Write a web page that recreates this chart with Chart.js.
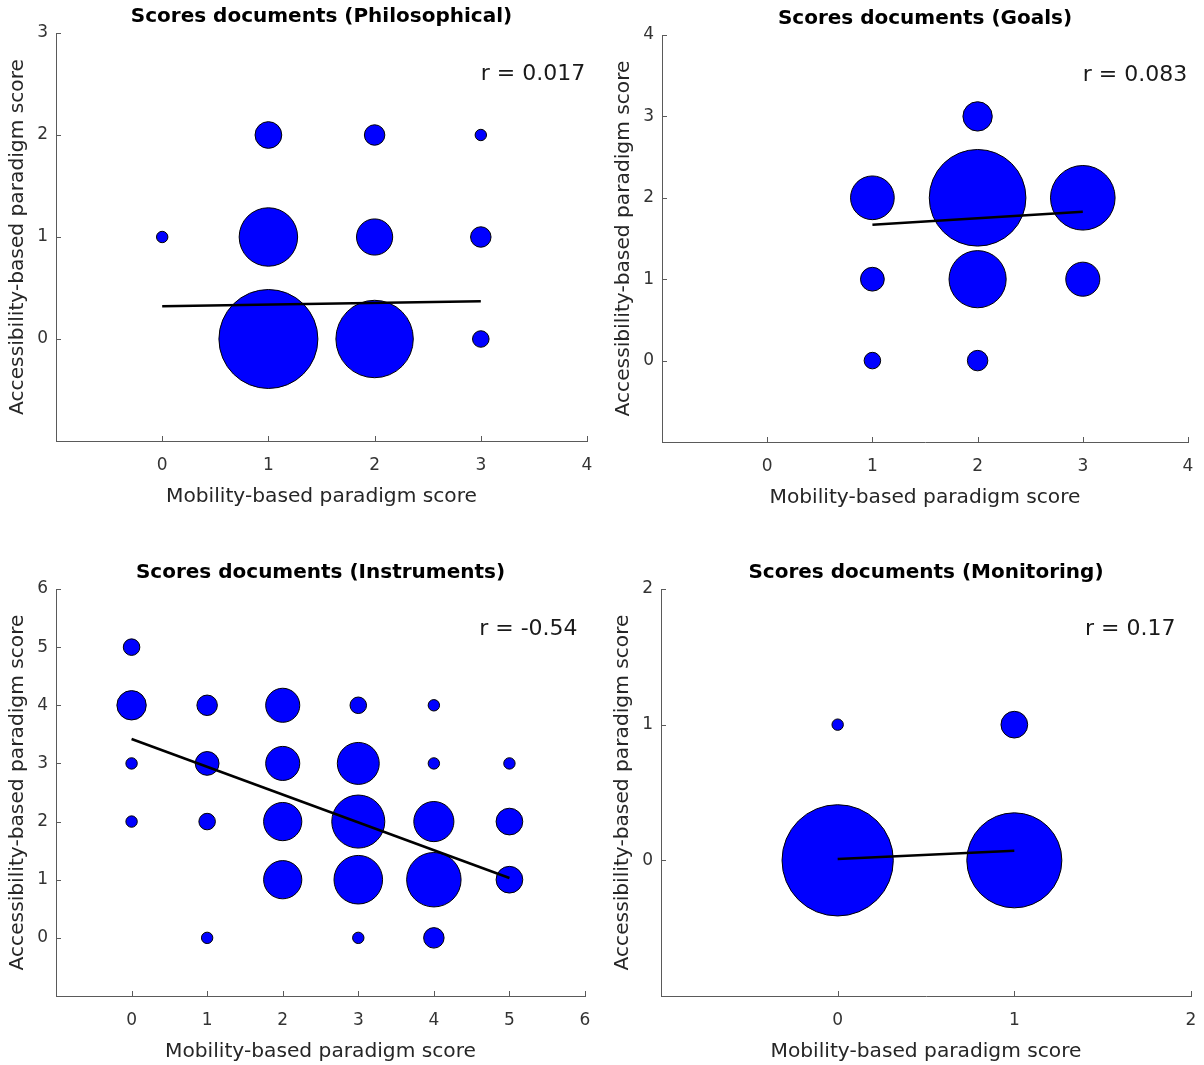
<!DOCTYPE html>
<html>
<head>
<meta charset="utf-8">
<script src="https://cdn.jsdelivr.net/npm/chart.js@4.4.1/dist/chart.umd.min.js"></script>
<style>
  html, body { margin: 0; padding: 0; background: #fff; }
  #wrap { position: relative; width: 1204px; height: 1065px; overflow: hidden; }
  #wrap canvas { position: absolute; }
</style>
</head>
<body>
<div id="wrap">
  <canvas id="c1"></canvas>
  <canvas id="c2"></canvas>
  <canvas id="c3"></canvas>
  <canvas id="c4"></canvas>
</div>
<script>
/***********************
 * DATA
 ***********************/
// Philosophical
const philX = [0, 1, 1, 1, 2, 2, 2, 3, 3, 3];
const philY = [1, 0, 1, 2, 0, 1, 2, 0, 1, 2];
const philN = [1, 65, 23, 5, 40, 9, 3, 2, 3, 1];
const philFitX = [0, 3];
const philFitY = [0.32, 0.37];
const philXTicks = [0, 1, 2, 3, 4];
const philYTicks = [0, 1, 2, 3];
const philXLim = [-1, 4];
const philYLim = [-1, 3];

// Goals
const goalX = [1, 1, 1, 2, 2, 2, 2, 3, 3];
const goalY = [0, 1, 2, 0, 1, 2, 3, 1, 2];
const goalN = [2, 4, 13, 3, 22, 62, 6, 8, 28];
const goalFitX = [1, 3];
const goalFitY = [1.67, 1.83];
const goalXTicks = [0, 1, 2, 3, 4];
const goalYTicks = [0, 1, 2, 3, 4];
const goalXLim = [-1, 4];
const goalYLim = [-1, 4];

// Instruments
const instrX = [0, 0, 0, 0, 1, 1, 1, 1, 2, 2, 2, 2, 3, 3, 3, 3, 3, 4, 4, 4, 4, 4, 5, 5, 5];
const instrY = [2, 3, 4, 5, 0, 2, 3, 4, 1, 2, 3, 4, 0, 1, 2, 3, 4, 0, 1, 2, 3, 4, 1, 2, 3];
const instrN = [1, 1, 6, 2, 1, 2, 4, 3, 10, 10, 8, 8, 1, 16, 19, 12, 2, 3, 20, 11, 1, 1, 5, 5, 1];
const instrFitX = [0, 5];
const instrFitY = [3.42, 1.03];
const instrXTicks = [0, 1, 2, 3, 4, 5, 6];
const instrYTicks = [0, 1, 2, 3, 4, 5, 6];
const instrXLim = [-1, 6];
const instrYLim = [-1, 6];

// Monitoring
const monX = [0, 0, 1, 1];
const monY = [0, 1, 0, 1];
const monN = [82, 1, 60, 5];
const monFitX = [0, 1];
const monFitY = [0.01, 0.07];
const monXTicks = [0, 1, 2];
const monYTicks = [0, 1, 2];
const monXLim = [-1, 2];
const monYLim = [-1, 2];

const titles = [
  "Scores documents (Philosophical)",
  "Scores documents (Goals)",
  "Scores documents (Instruments)",
  "Scores documents (Monitoring)",
];
const corrLabels = ["r = 0.017", "r = 0.083", "r = -0.54", "r = 0.17"];
const xTitle = "Mobility-based paradigm score";
const yTitle = "Accessibility-based paradigm score";

/***********************
 * STYLE
 ***********************/
const FONT = '"DejaVu Sans", sans-serif';
const AXIS_COLOR = "#5a5a5a";
const TEXT_COLOR = "#262626";
const BUBBLE_K = 6.2; // px radius for a count of 1 (area ~ count)
const Y_AXIS_W = 56, X_AXIS_H = 68, TOP_PAD = 33, RIGHT_PAD = 20, BOTTOM_PAD = 4;

Chart.defaults.font.family = FONT;
Chart.defaults.color = TEXT_COLOR;

// inward tick marks, title and r label
const panelDecor = {
  id: "panelDecor",
  afterDraw(chart, args, opts) {
    const { ctx, chartArea: a, scales: { x, y } } = chart;
    ctx.save();
    ctx.strokeStyle = AXIS_COLOR;
    ctx.lineWidth = 1;
    ctx.beginPath();
    x.ticks.forEach((t) => {
      const px = Math.round(x.getPixelForValue(t.value)) + 0.5;
      ctx.moveTo(px, a.bottom);
      ctx.lineTo(px, a.bottom - 5);
    });
    y.ticks.forEach((t) => {
      const py = Math.round(y.getPixelForValue(t.value)) + 0.5;
      ctx.moveTo(a.left, py);
      ctx.lineTo(a.left + 5, py);
    });
    ctx.stroke();

    ctx.fillStyle = "#000";
    ctx.font = "bold 20px " + FONT;
    ctx.textAlign = "center";
    ctx.textBaseline = "middle";
    ctx.fillText(opts.title, (a.left + a.right) / 2, a.top - 16);

    ctx.fillStyle = "#1a1a1a";
    ctx.font = "22px " + FONT;
    ctx.textAlign = "left";
    ctx.fillText(opts.label, a.left + 0.8 * (a.right - a.left), a.bottom - 0.9 * (a.bottom - a.top));
    ctx.restore();
  },
};

function axis(lim, ticks, title, isX) {
  return {
    type: "linear",
    min: lim[0],
    max: lim[1],
    afterBuildTicks: (s) => { s.ticks = ticks.map((v) => ({ value: v })); },
    afterFit: (s) => { if (isX) s.height = X_AXIS_H; else s.width = Y_AXIS_W; },
    grid: { display: true, drawOnChartArea: false, drawTicks: false },
    border: { display: true, color: AXIS_COLOR, width: 1 },
    ticks: { font: { size: 17 }, color: "#333", padding: isX ? 14 : 8 },
    title: {
      display: true,
      text: title,
      color: TEXT_COLOR,
      font: { size: 20.2 },
      padding: isX ? { top: 0, bottom: 0 } : { top: 6, bottom: 0 },
    },
  };
}

function makePanel(id, area, xs, ys, ns, fitX, fitY, xTicks, yTicks, xLim, yLim, idx) {
  const [L, T, R, B] = area;
  const canvas = document.getElementById(id);
  canvas.width = Y_AXIS_W + (R - L) + RIGHT_PAD;
  canvas.height = TOP_PAD + (B - T) + X_AXIS_H + BOTTOM_PAD;
  canvas.style.left = L - Y_AXIS_W + "px";
  canvas.style.top = T - TOP_PAD + "px";

  const bubbles = xs.map((x, i) => ({ x, y: ys[i], r: BUBBLE_K * Math.sqrt(ns[i]) - 0.5 }));
  const fit = fitX.map((x, i) => ({ x, y: fitY[i] }));

  return new Chart(canvas, {
    type: "bubble",
    data: {
      datasets: [
        {
          type: "line",
          data: fit,
          borderColor: "#000",
          borderWidth: 2.5,
          pointRadius: 0,
          fill: false,
          order: 0,
        },
        {
          data: bubbles,
          backgroundColor: "#0000ff",
          borderColor: "#000",
          borderWidth: 1,
          order: 1,
        },
      ],
    },
    options: {
      responsive: false,
      animation: false,
      layout: {
        autoPadding: false,
        padding: { left: 0, top: TOP_PAD, right: RIGHT_PAD, bottom: BOTTOM_PAD },
      },
      plugins: {
        legend: { display: false },
        tooltip: { enabled: false },
        panelDecor: { title: titles[idx], label: corrLabels[idx] },
      },
      scales: {
        x: axis(xLim, xTicks, xTitle, true),
        y: axis(yLim, yTicks, yTitle, false),
      },
    },
    plugins: [panelDecor],
  });
}

makePanel("c1", [56, 33, 587, 441], philX, philY, philN, philFitX, philFitY, philXTicks, philYTicks, philXLim, philYLim, 0);
makePanel("c2", [662, 35, 1188, 442], goalX, goalY, goalN, goalFitX, goalFitY, goalXTicks, goalYTicks, goalXLim, goalYLim, 1);
makePanel("c3", [56, 589, 585, 996], instrX, instrY, instrN, instrFitX, instrFitY, instrXTicks, instrYTicks, instrXLim, instrYLim, 2);
makePanel("c4", [661, 589, 1191, 996], monX, monY, monN, monFitX, monFitY, monXTicks, monYTicks, monXLim, monYLim, 3);
</script>
</body>
</html>
